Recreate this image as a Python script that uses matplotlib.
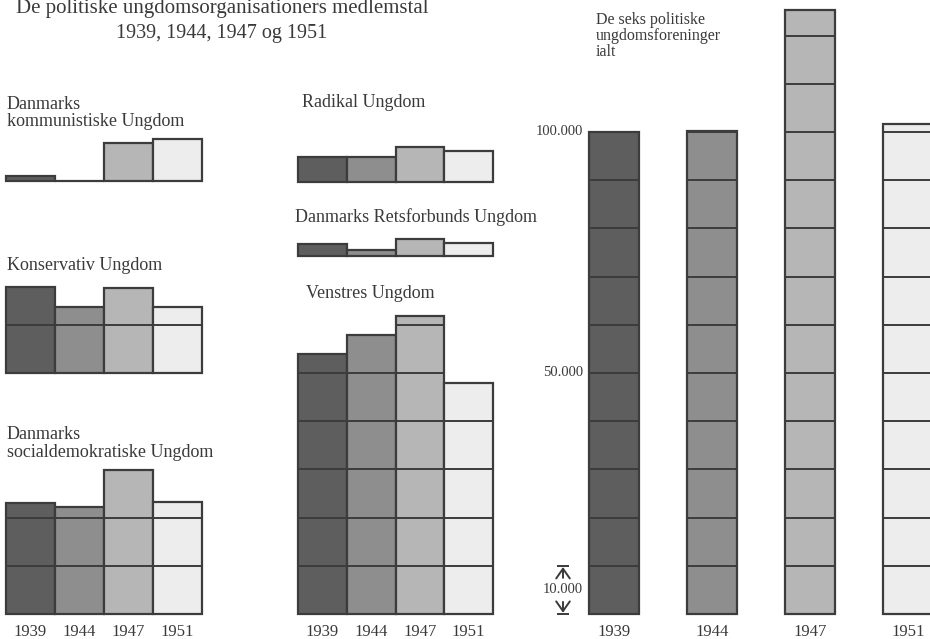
import matplotlib
matplotlib.use("Agg")
import matplotlib.pyplot as plt

# ---------------- data (members) ----------------
years = ["1939", "1944", "1947", "1951"]
kommunistisk = [1000, 0, 7800, 8700]
konservativ = [17800, 13600, 17700, 13600]
socialdemokratisk = [23100, 22100, 29900, 23300]
radikal = [5200, 5200, 7300, 6400]
retsforbund = [2400, 1300, 3600, 2600]
venstre = [53900, 57900, 61900, 48000]
ialt = [100000, 100300, 125300, 101700]
scale_values = [50000, 100000]
scale_labels = ["50.000", "100.000"]
cell_size = 10000
cell_label = "10.000"

title1 = "De politiske ungdomsorganisationers medlemstal"
title2 = "1939, 1944, 1947 og 1951"

# ---------------- style ----------------
plt.rcParams['font.family'] = ['Liberation Serif', 'DejaVu Serif']
TXT = '#3a3a3a'
EDGE = '#3c3c3c'
FILLS = ['#5e5e5e', '#8e8e8e', '#b6b6b6', '#ededed']
LW = 1.6
GLW = 1.4

W, H = 930, 639
PX = 4.82 / 1000.0  # pixels per member

fig = plt.figure(figsize=(W / 100, H / 100), dpi=100)
fig.patch.set_facecolor('white')


def panel(left, base, width, ymax, xlim=(0, 4)):
    ax = fig.add_axes([left / W, (H - base) / H, width / W, ymax * PX / H])
    ax.set_xlim(*xlim)
    ax.set_ylim(0, ymax)
    for s in ax.spines.values():
        s.set_visible(False)
    ax.set_yticks([])
    ax.set_xticks([])
    ax.patch.set_alpha(0)
    return ax


def draw_bars(ax, values, xs, width, align='edge'):
    for xi, v, c in zip(xs, values, FILLS):
        ax.bar(xi, v, width=width, align=align, color=c, edgecolor=EDGE,
               linewidth=LW, clip_on=False, zorder=2)
        x0 = xi if align == 'edge' else xi - width / 2
        k = cell_size
        while k < v:
            ax.hlines(k, x0, x0 + width, colors=EDGE, linewidth=GLW,
                      zorder=3, clip_on=False)
            k += cell_size


def year_ticks(ax, xs):
    ax.set_xticks(xs, years)
    ax.tick_params(axis='x', length=0, pad=7, labelsize=12, labelcolor=TXT)


def ftext(x, y, s, size=13, ha='left'):
    fig.text(x / W, 1 - y / H, s, ha=ha, va='baseline', fontsize=size, color=TXT)


edge_x = [0, 1, 2, 3]
mid_x = [0.5, 1.5, 2.5, 3.5]

# left column
ax = panel(6, 181, 196, 10000)
draw_bars(ax, kommunistisk, edge_x, 1)
ax = panel(6, 373, 196, 20000)
draw_bars(ax, konservativ, edge_x, 1)
ax = panel(6, 614, 196, 32000)
draw_bars(ax, socialdemokratisk, edge_x, 1)
year_ticks(ax, mid_x)

# middle column
ax = panel(298, 182, 195, 8000)
draw_bars(ax, radikal, edge_x, 1)
ax = panel(298, 256, 195, 4000)
draw_bars(ax, retsforbund, edge_x, 1)
ax = panel(298, 614, 195, 64000)
draw_bars(ax, venstre, edge_x, 1)
year_ticks(ax, mid_x)

# right: totals
c0, step = 614, 98.0
xl = ((540 - c0) / step, (930 - c0) / step)
ax = panel(540, 614, 390, 127000, xlim=xl)
draw_bars(ax, ialt, [0, 1, 2, 3], 50 / step, align='center')
year_ticks(ax, [0, 1, 2, 3])
lab_x = (583 - c0) / step
for v, s in zip(scale_values, scale_labels):
    ax.text(lab_x, v, s, ha='right', va='center', fontsize=10.5, color=TXT)
ax.text(lab_x, cell_size / 2, cell_label, ha='right', va='center',
        fontsize=10.5, color=TXT)
arr_x = (563 - c0) / step
bw = 6 / step
ap = dict(arrowstyle='->,head_length=0.5,head_width=0.35', color=TXT, lw=1.4,
          shrinkA=0, shrinkB=0, mutation_scale=14)
ax.annotate('', xy=(arr_x, cell_size - 250), xytext=(arr_x, cell_size * 0.75),
            arrowprops=ap, annotation_clip=False)
ax.hlines(cell_size, arr_x - bw, arr_x + bw, colors=TXT, linewidth=1.4, clip_on=False)
ax.annotate('', xy=(arr_x, 250), xytext=(arr_x, cell_size * 0.25),
            arrowprops=ap, annotation_clip=False)
ax.hlines(0, arr_x - bw, arr_x + bw, colors=TXT, linewidth=1.4, clip_on=False)

# ---------------- texts ----------------
ftext(222, 13, title1, size=15, ha='center')
ftext(222, 38, title2, size=14.5, ha='center')

ftext(7, 109, "Danmarks")
ftext(7, 126, "kommunistiske Ungdom")
ftext(7, 270, "Konservativ Ungdom")
ftext(7, 439, "Danmarks")
ftext(7, 457, "socialdemokratiske Ungdom")

ftext(302, 107, "Radikal Ungdom")
ftext(295, 222, "Danmarks Retsforbunds Ungdom")
ftext(306, 298, "Venstres Ungdom")

ftext(596, 24, "De seks politiske", size=11.5)
ftext(596, 40, "ungdomsforeninger", size=11.5)
ftext(596, 56, "ialt", size=11.5)

fig.savefig("out.png", dpi=100, facecolor='white')
